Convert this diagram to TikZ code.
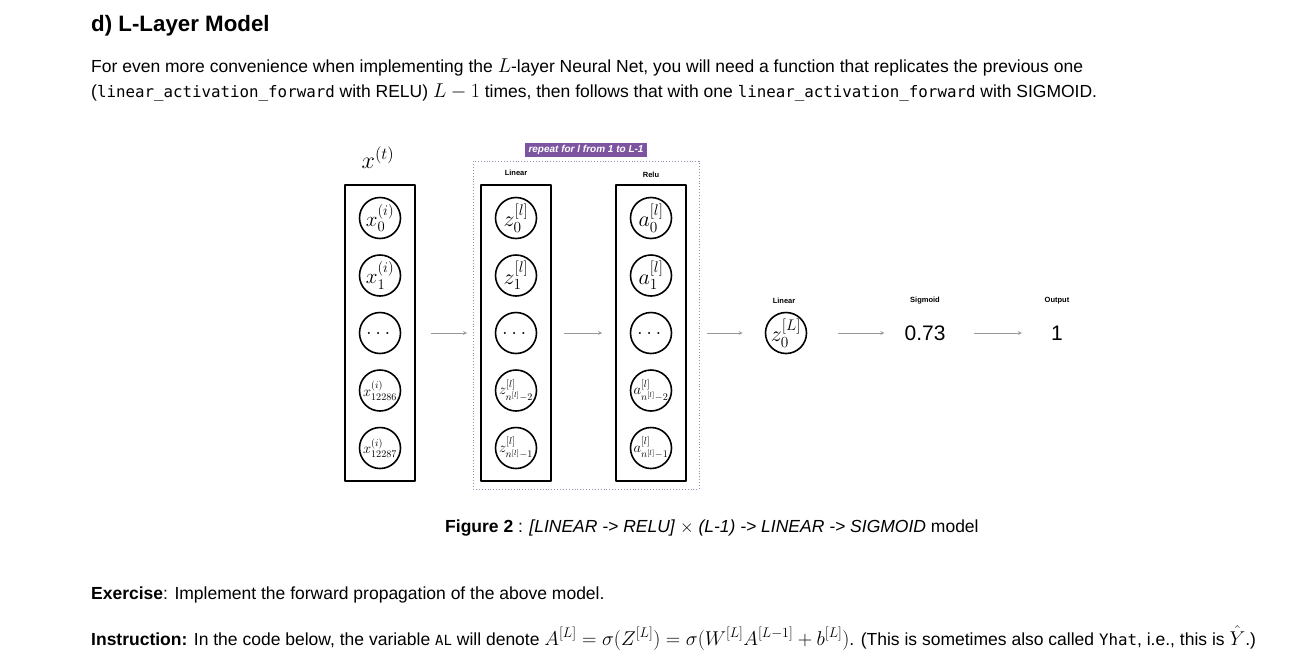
\RequirePackage{fix-cm}
\documentclass[tikz,border=0pt]{standalone}
\usepackage{amsmath}
\usepackage{fontspec}
\setmainfont{Liberation Sans}
\setmonofont{DejaVu Sans Mono}
\definecolor{tagpurple}{RGB}{124,84,160}
\definecolor{repframe}{RGB}{150,140,180}
\newcommand{\fs}[1]{\fontsize{#1}{#1}\selectfont}
\newcommand{\bigmath}[1]{{\fs{20}$#1$}}
\begin{document}
\begin{tikzpicture}[x=1pt,y=-1pt,line join=round,>=stealth,
	layerbox/.style={draw=black,line width=1.8pt,minimum width=70pt,minimum height=296pt,inner sep=0},
	unit/.style={draw=black,circle,line width=1.6pt,minimum size=41pt,inner sep=-3pt,font=\fs{21}},
	zunit/.style={unit,font=\fs{22}},
	smallunit/.style={unit,font=\fs{14.5}},
	lbl/.style={inner sep=0,font=\fs{7.5}\bfseries},
	flow/.style={-stealth,draw=gray!80,line width=0.8pt},
	txt/.style={anchor=base west,inner sep=0,font=\fs{17.5}}]
	\fill[white](0,0)rectangle(1303,664);
	\useasboundingbox(0,0)rectangle(1303,664);
	% text above the figure
	\node(title)[txt,font=\fs{22.3}\bfseries] at (91,31){d) L-Layer Model};
	\node(intro1)[txt] at (91,72){For even more convenience when implementing the \bigmath{L}-layer Neural Net, you will need a function that replicates the previous one};
	\node(intro2)[txt] at (91,97){(\texttt{\fs{15.8}linear\_activation\_forward} with RELU) \bigmath{L-1} times, then follows that with one \texttt{\fs{15.8}linear\_activation\_forward} with SIGMOID.};
	% input layer
	\node(inbox)[layerbox] at (380,333){};
	\node(xt)[font=\fs{24}] at (378,158){$x^{(t)}$};
	\path(380,218)node(x0)[unit]{$x^{(i)}_0$}
	++(0,57.5)node(x1)[unit]{$x^{(i)}_1$}
	++(0,57.5)node(x2)[unit]{$\dots$}
	++(0,57.5)node(x3)[smallunit]{$x^{(i)}_{12286}$}
	++(0,57.5)node(x4)[smallunit]{$x^{(i)}_{12287}$}
	;
	% repeated block
	\node(rep)[draw=repframe,dotted,line width=0.9pt,minimum width=226pt,minimum height=328pt] at (586,325){};
	\node(tag)[fill=tagpurple,text=white,font=\fs{10}\bfseries\itshape,minimum width=122pt,minimum height=14pt,inner sep=0] at (586,150){repeat for l from 1 to L-1};
	\node(zbox)[layerbox] at (516,333){};
	\node(abox)[layerbox] at (651,333){};
	\node(zlbl)[lbl] at (516,173){Linear};
	\node(albl)[lbl] at (651,175){Relu};
	\path(516,218)node(z0)[zunit]{$z^{[l]}_0$}
	++(0,57.5)node(z1)[zunit]{$z^{[l]}_1$}
	++(0,57.5)node(z2)[unit]{$\dots$}
	++(0,57.5)node(z3)[smallunit]{$z^{[l]}_{n^{[l]}-2}$}
	++(0,57.5)node(z4)[smallunit]{$z^{[l]}_{n^{[l]}-1}$}
	;
	\path(651,218)node(a0)[zunit]{$a^{[l]}_0$}
	++(0,57.5)node(a1)[zunit]{$a^{[l]}_1$}
	++(0,57.5)node(a2)[unit]{$\dots$}
	++(0,57.5)node(a3)[smallunit]{$a^{[l]}_{n^{[l]}-2}$}
	++(0,57.5)node(a4)[smallunit]{$a^{[l]}_{n^{[l]}-1}$}
	;
	% last layer and output
	\path(786,333)node(zL)[zunit]{$z^{[L]}_0$}
	(925,333)node(sig)[inner sep=0,font=\fs{21}]{0.73}
	(1057,333)node(out)[inner sep=0,font=\fs{21}]{1}
	;
	\node(zLlbl)[lbl] at (784,301){Linear};
	\node(siglbl)[lbl] at (925,301){Sigmoid};
	\node(outlbl)[lbl] at (1057,301){Output};
	\draw[flow,shorten <=15pt,shorten >=13pt](inbox.east)--(zbox.west);
	\draw[flow,shorten <=12pt,shorten >=13pt](zbox.east)--(abox.west);
	\draw[flow,shorten <=20pt,shorten >=22pt](abox.east)--(zL.west);
	\draw[flow,shorten <=31pt,shorten >=20pt](zL.east)--(sig.west);
	\draw[flow,shorten <=28pt,shorten >=29pt](sig.east)--(out.west);
	% text below the figure
	\node(cap)[txt] at (445,532){\textbf{Figure 2} : \textit{[LINEAR -> RELU]} $\times$ \textit{(L-1) -> LINEAR -> SIGMOID} model};
	\node(exer)[txt] at (91,599){\textbf{Exercise}: Implement the forward propagation of the above model.};
	\node(instr)[txt] at (91,645){\textbf{Instruction:} In the code below, the variable \texttt{\fs{14}AL} will denote \bigmath{A^{[L]} = \sigma(Z^{[L]}) = \sigma( W^{[L]} A^{[L-1]} + b^{[L]})}. (This is sometimes also called \texttt{\fs{15.8}Yhat}, i.e., this is \bigmath{\hat{Y}}.)};
\end{tikzpicture}
\end{document}
